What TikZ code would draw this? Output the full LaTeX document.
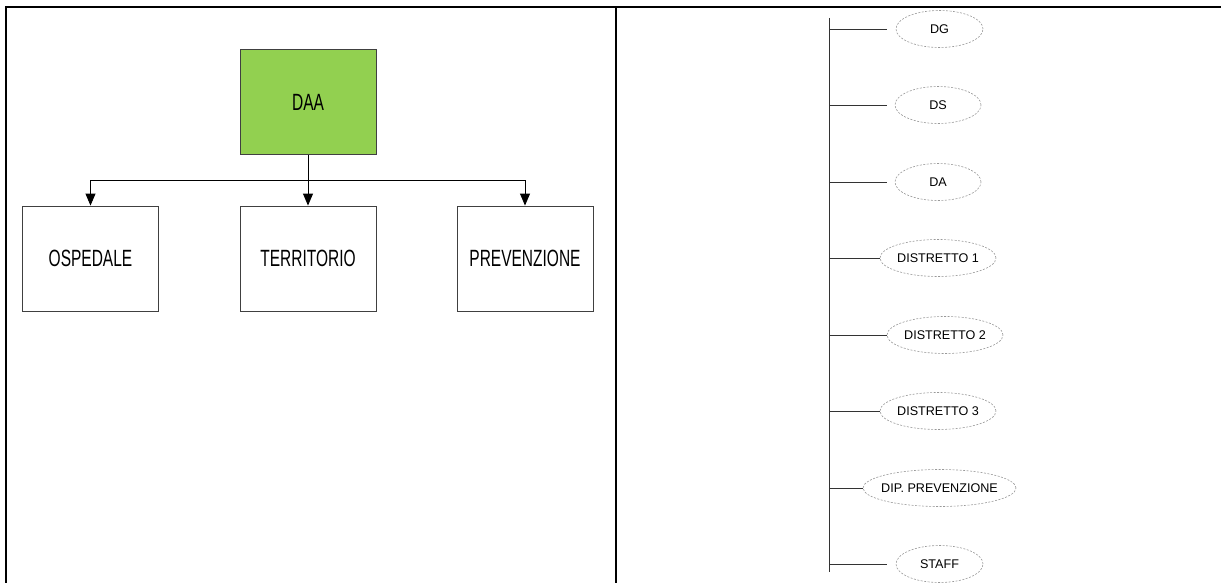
\documentclass[tikz,border=0pt]{standalone}
\usepackage{fontspec}
\setmainfont{Liberation Sans}
\usetikzlibrary{shapes.geometric,arrows.meta}
\definecolor{daagreen}{HTML}{92D050}
\newcommand{\unitlabel}[1]{\makebox[0pt]{#1}}
\begin{document}
\begin{tikzpicture}[x=1pt,y=-1pt,
  orgbox/.style={draw=black!75,line width=0.9pt,minimum width=136pt,minimum height=105pt,inner sep=0pt,
    font=\fontsize{23.5}{24}\selectfont},
  unit/.style={ellipse,draw=black!40,dash pattern=on 2pt off 1.5pt,line width=0.6pt,minimum height=37pt,inner sep=0pt,
    font=\fontsize{12.6}{13}\selectfont},
  conn/.style={draw=black,line width=0.9pt},
  branch/.style={draw=black!80,line width=0.9pt},
  frame/.style={draw=black,line width=2pt}]
\useasboundingbox (0,0) rectangle (1221,583);
% frame
\draw[frame] (6,583) -- (6,7) -- (1221,7);
\draw[frame] (616,7) -- (616,583);
% left org chart
\node[orgbox,fill=daagreen] (daa) at (308,102) {\scalebox{0.66}[1]{DAA}};
\node[orgbox] (osp) at (90.5,258.5) {\scalebox{0.66}[1]{OSPEDALE}};
\node[orgbox] (ter) at (308,258.5) {\scalebox{0.66}[1]{TERRITORIO}};
\node[orgbox] (pre) at (525,258.5) {\scalebox{0.66}[1]{PREVENZIONE}};
\coordinate (bus) at (308,180);
\draw[conn] (daa.south) -- (bus);
\draw[conn,-{Triangle[length=12pt,width=10pt]}] (bus) -- (ter.north);
\draw[conn,-{Triangle[length=12pt,width=10pt]}] (bus) -| (osp.north);
\draw[conn,-{Triangle[length=12pt,width=10pt]}] (bus) -| (pre.north);
% right list
\coordinate (vtop) at (829,18);
\coordinate (vbot) at (829,572);
\draw[branch] (vtop) -- (vbot);
\node[unit,minimum width=87pt] (dg) at (939.5,29) {\unitlabel{DG}};
\node[unit,minimum width=86pt] (ds) at (938,105) {\unitlabel{DS}};
\node[unit,minimum width=86pt] (da) at (938,182) {\unitlabel{DA}};
\node[unit,minimum width=116pt] (d1) at (938,258) {\unitlabel{DISTRETTO 1}};
\node[unit,minimum width=116pt] (d2) at (945,335) {\unitlabel{DISTRETTO 2}};
\node[unit,minimum width=116pt] (d3) at (938,411) {\unitlabel{DISTRETTO 3}};
\node[unit,minimum width=153pt] (dip) at (939.5,488) {\unitlabel{DIP. PREVENZIONE}};
\node[unit,minimum width=87pt] (st) at (939.5,564) {\unitlabel{STAFF}};
\foreach \n/\y in {dg/29,ds/105,da/182,st/564}{
  \coordinate (e\n) at (887,\y);
  \draw[branch] (829,\y) -- (e\n);
}
\foreach \n/\y in {d1/258,d2/335,d3/411,dip/488}{
  \draw[branch] (829,\y) -- (\n.west);
}
\end{tikzpicture}
\end{document}
